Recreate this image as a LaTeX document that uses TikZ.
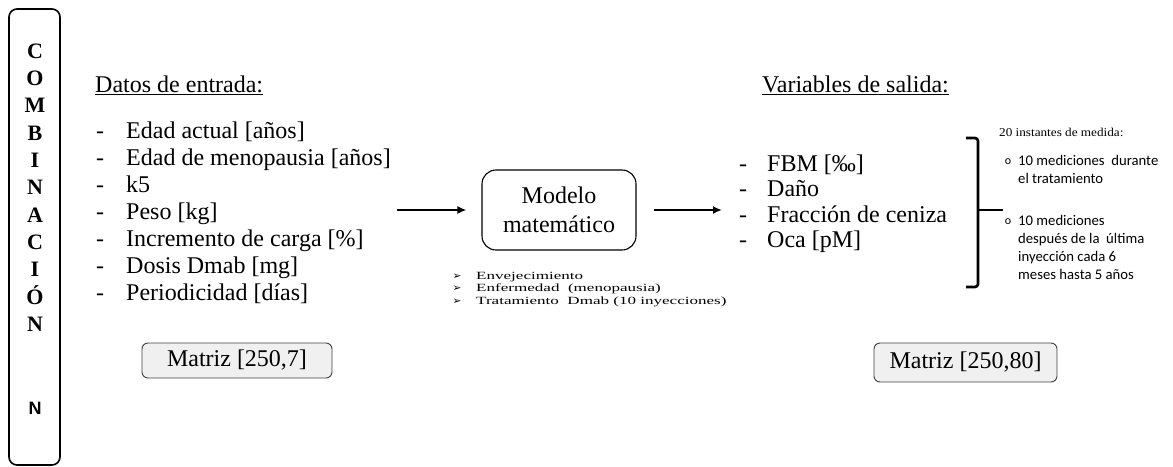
\documentclass[tikz,border=0pt]{standalone}
\usepackage{fontspec}
\setmainfont{Liberation Serif}
\newfontfamily\calfont{Carlito}
\newfontfamily\arialfont{Liberation Sans}
\newfontfamily\symfont{DejaVu Sans}
\usetikzlibrary{arrows.meta}

\tikzset{
  big/.style={font=\fontsize{24}{29}\selectfont, inner sep=0pt},
  item/.style={big, anchor=base west},
  dashmark/.style={big, anchor=base},
  heading/.style={big, anchor=base west},
  flow/.style={line width=2.2pt, -{Latex[length=9pt,width=8pt]}},
  matbox/.style={draw=black!75, line width=0.9pt, fill=black!6, rounded corners=6pt,
    inner sep=0pt, font=\fontsize{24}{29}\selectfont},
  letter/.style={font=\bfseries\fontsize{22}{24}\selectfont, anchor=base, inner sep=0pt},
  smallserif/.style={font=\fontsize{11}{13}\selectfont, anchor=base west, inner sep=0pt},
  smallarrow/.style={font=\symfont\fontsize{10.5}{12}\selectfont, anchor=base, inner sep=0pt},
  calib/.style={font=\calfont\fontsize{14.7}{18}\selectfont, anchor=base west, inner sep=0pt},
  calbullet/.style={font=\calfont\fontsize{12}{14}\selectfont, anchor=base, inner sep=0pt},
}

\begin{document}
\begin{tikzpicture}[x=1pt,y=-1pt]
  \useasboundingbox (0,0) rectangle (1173,466);
  \fill[white] (0,0) rectangle (1173,466);

  % vertical label box
  \node[draw, line width=1.6pt, rounded corners=8pt, minimum width=51pt, minimum height=456pt,
        inner sep=0pt] (combo) at (34.5,237) {};
  \foreach \l [count=\k] in {C,O,M,B,I,N,A,C,I,Ó,N}
    \node[letter] (L\k) at (35,{58.3+27.3*(\k-1)}) {\l};
  \node[font=\arialfont\bfseries\fontsize{18}{20}\selectfont, anchor=base, inner sep=0pt]
    (Nsans) at (35,414) {N};

  % input data
  \node[heading] (inhead) at (95,92) {\underline{Datos de entrada:}};
  \node[dashmark] (d1) at (100,138) {-};
  \node[item] (i1) at (126,138) {Edad actual [años]};
  \node[dashmark] (d2) at (100,165) {-};
  \node[item] (i2) at (126,165) {Edad de menopausia [años]};
  \node[dashmark] (d3) at (100,192) {-};
  \node[item] (i3) at (126,192) {k5};
  \node[dashmark] (d4) at (100,219) {-};
  \node[item] (i4) at (126,219) {Peso [kg]};
  \node[dashmark] (d5) at (100,246) {-};
  \node[item] (i5) at (126,246) {Incremento de carga [\%]};
  \node[dashmark] (d6) at (100,273) {-};
  \node[item] (i6) at (126,273) {Dosis Dmab [mg]};
  \node[dashmark] (d7) at (100,300) {-};
  \node[item] (i7) at (126,300) {Periodicidad [días]};
  \node[matbox, minimum width=190pt, minimum height=35pt] (matin) at (237,360.5) {Matriz [250,7]};

  % model
  \node[draw, line width=1.1pt, rounded corners=14pt, minimum width=154pt, minimum height=80pt,
        align=center, font=\fontsize{24}{29}\selectfont, inner sep=0pt] (model) at (559,210)
        {Modelo\\matemático};
  \coordinate (inarrow) at (397,210);
  \coordinate (outarrow) at (722,210);
  \draw[flow] (inarrow) -- ([xshift=-15pt]model.west);
  \draw[flow] ([xshift=17pt]model.east) -- (outarrow);

  \node[smallarrow] (b1) at (457,279) {➢};
  \node[smallserif] (t1) at (476,279) {\scalebox{1.55}[1]{Envejecimiento}};
  \node[smallarrow] (b2) at (457,291.5) {➢};
  \node[smallserif] (t2) at (476,291.5) {\scalebox{1.55}[1]{Enfermedad\ \ (menopausia)}};
  \node[smallarrow] (b3) at (457,304) {➢};
  \node[smallserif] (t3) at (476,304) {\scalebox{1.55}[1]{Tratamiento\ \ Dmab (10 inyecciones)}};

  % output variables
  \node[heading] (outhead) at (762,92) {\underline{Variables de salida:}};
  \node[dashmark] (e1) at (743,171) {-};
  \node[item] (o1) at (767,171) {FBM [‰]};
  \node[dashmark] (e2) at (743,196.5) {-};
  \node[item] (o2) at (767,196.5) {Daño};
  \node[dashmark] (e3) at (743,222) {-};
  \node[item] (o3) at (767,222) {Fracción de ceniza};
  \node[dashmark] (e4) at (743,247.5) {-};
  \node[item] (o4) at (767,247.5) {Oca [pM]};
  \node[matbox, minimum width=183pt, minimum height=39pt] (matout) at (965.5,362.5) {Matriz [250,80]};

  % bracket over the outputs
  \draw[line width=2.6pt, rounded corners=3pt] (966,138) -- (978,138) -- (978,287) -- (966,287);
  \coordinate (brmid) at (978,210);
  \coordinate (brtip) at (1003,210);
  \draw[line width=2.6pt] (brmid) -- (brtip);

  % measurement instants
  \node[smallserif, font=\fontsize{12}{14}\selectfont] (meas) at (999,136)
    {\scalebox{1.1}[1]{20 instantes de medida:}};
  \node[calbullet] (c1) at (1008,164) {o};
  \node[calib] (m1) at (1018,165) {10 mediciones\ \ durante};
  \node[calib] (m2) at (1018,183) {el tratamiento};
  \node[calbullet] (c2) at (1008,224) {o};
  \node[calib] (m3) at (1018,225) {10 mediciones};
  \node[calib] (m4) at (1018,243) {después de la\ \ última};
  \node[calib] (m5) at (1018,261) {inyección cada 6};
  \node[calib] (m6) at (1018,279) {meses hasta 5 años};
\end{tikzpicture}
\end{document}
